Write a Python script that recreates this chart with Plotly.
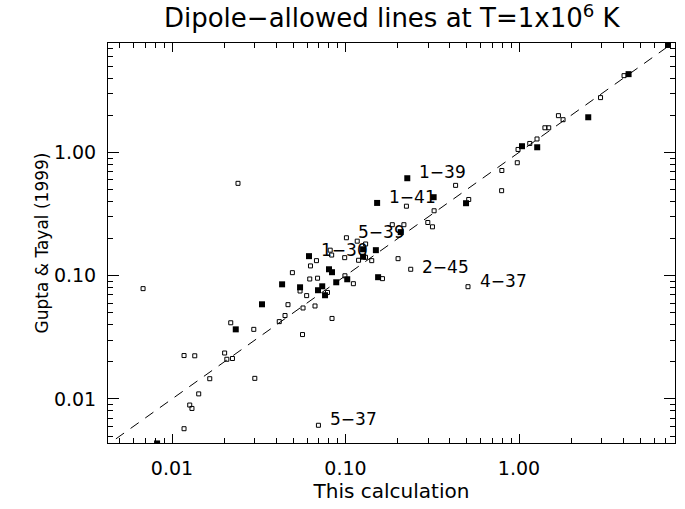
import numpy as np
import plotly.graph_objects as go

# ---- data ----
open_x = [0.00681, 0.0240, 0.0415, 0.0218, 0.0296, 0.0201, 0.01173, 0.01352, 0.0207, 0.0223,
          0.0165, 0.0300, 0.01425, 0.01265, 0.01303, 0.01173, 0.0698, 0.0448, 0.0466, 0.0494,
          0.0547, 0.0569, 0.0565, 0.0597, 0.0628, 0.0622, 0.0680, 0.0690, 0.0667, 0.0787,
          0.0816, 0.0832, 0.0836, 0.0992, 0.0989, 0.1110, 0.1189, 0.1168, 0.1303, 0.1306,
          0.1416, 0.1633, 0.1012, 0.2008, 0.2376, 0.508, 0.431, 0.2244, 0.513, 0.324,
          0.298, 0.317, 0.186, 0.217, 0.796, 0.794, 0.977, 0.987, 1.153, 1.27,
          1.41, 1.483, 1.687, 1.794, 2.95, 4.03]
open_y = [0.0785, 0.561, 0.0424, 0.0415, 0.0367, 0.0236, 0.0225, 0.0224, 0.0210, 0.0213,
          0.0146, 0.0147, 0.0110, 0.00893, 0.00838, 0.00574, 0.00612, 0.0475, 0.0582, 0.1058,
          0.0751, 0.0547, 0.0333, 0.0689, 0.120, 0.0940, 0.1324, 0.0954, 0.0568, 0.0731,
          0.161, 0.147, 0.0450, 0.0998, 0.140, 0.0861, 0.1333, 0.1905, 0.141, 0.1807,
          0.1324, 0.0946, 0.203, 0.1374, 0.1127, 0.0814, 0.540, 0.366, 0.415, 0.336,
          0.270, 0.249, 0.259, 0.259, 0.713, 0.489, 0.824, 1.056, 1.181, 1.284,
          1.583, 1.583, 1.985, 1.841, 2.78, 4.19]

filled_x = [0.0330, 0.0233, 0.00820, 0.0431, 0.0547, 0.0616, 0.0734, 0.0694, 0.0762, 0.0803,
            0.0836, 0.0884, 0.1023, 0.1262, 0.1262, 0.1496, 0.1541, 0.1521, 0.227, 0.322,
            0.495, 0.208, 1.04, 1.273, 2.506, 4.28, 7.22]
filled_y = [0.0586, 0.0367, 0.00436, 0.0851, 0.0805, 0.144, 0.0820, 0.0762, 0.0694, 0.1127,
            0.1067, 0.0884, 0.0935, 0.1637, 0.1425, 0.161, 0.0972, 0.389, 0.617, 0.433,
            0.387, 0.2255, 1.122, 1.100, 1.926, 4.31, 7.43]

label_text = ["1−39", "1−41", "5−39", "1−30", "2−45", "4−37", "5−37"]
label_x = [0.227, 0.1521, 0.1012, 0.0616, 0.2376, 0.508, 0.0698]
label_y = [0.617, 0.389, 0.203, 0.144, 0.1127, 0.0814, 0.00612]

diag = [0.001, 10.0]

tick_vals = [0.01, 0.1, 1.0]
tick_text = ["0.01", "0.10", "1.00"]

FONT = "DejaVu Sans"

fig = go.Figure()
fig.add_trace(go.Scatter(x=diag, y=diag, mode="lines",
                         line=dict(color="black", width=1, dash="10px,8px"),
                         hoverinfo="skip", showlegend=False))
fig.add_trace(go.Scatter(x=open_x, y=open_y, mode="markers",
                         marker=dict(symbol="square-open", size=4, color="black",
                                     line=dict(width=1, color="black")),
                         showlegend=False))
fig.add_trace(go.Scatter(x=filled_x, y=filled_y, mode="markers",
                         marker=dict(symbol="square", size=6, color="black",
                                     line=dict(width=0)),
                         showlegend=False))

shifts = {"2−45": (9, 2)}
for t, lx, ly in zip(label_text, label_x, label_y):
    xs, ys = shifts.get(t, (10, 6))
    fig.add_annotation(x=np.log10(lx), y=np.log10(ly), xref="x", yref="y",
                       text=t, showarrow=False, xanchor="left", yanchor="middle",
                       xshift=xs, yshift=ys,
                       font=dict(family=FONT, size=17, color="black"))

axis_common = dict(type="log", showline=True, linecolor="black", linewidth=1,
                   mirror="allticks", ticks="inside", tickcolor="black",
                   showgrid=False, zeroline=False, automargin=False,
                   tickvals=tick_vals, ticktext=tick_text,
                   tickfont=dict(family=FONT, size=19, color="black"),
                   minor=dict(ticks="inside", ticklen=5, tickcolor="black",
                              dtick="D1", showgrid=False))

fig.update_xaxes(**axis_common, range=[-2.369, 0.899], ticklen=9,
                 ticklabelstandoff=8,
                 title=dict(text="This calculation", standoff=4,
                            font=dict(family=FONT, size=20, color="black")))
fig.update_yaxes(**axis_common, range=[-2.357, 0.887], ticklen=11,
                 ticklabelstandoff=7,
                 title=dict(text="Gupta &amp; Tayal (1999)", standoff=0,
                            font=dict(family=FONT, size=17, color="black")))

fig.update_layout(
    width=685, height=509,
    margin=dict(l=108, r=10, t=43, b=66),
    paper_bgcolor="white", plot_bgcolor="white",
    title=dict(text="Dipole−allowed lines at T=1x10<sup>6</sup> K",
               x=0.572, xanchor="center", y=0.964, yanchor="middle",
               font=dict(family=FONT, size=26, color="black")),
)

fig.write_html("out.html", config={"displayModeBar": False},
               post_script="document.body.style.margin='0';")
